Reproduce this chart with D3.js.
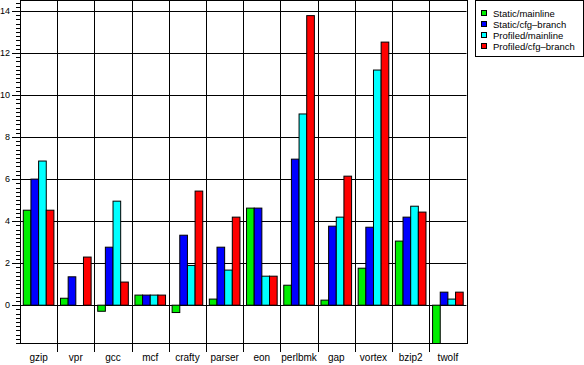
<!DOCTYPE html>
<html>
<head>
<meta charset="utf-8">
<script src="https://cdn.jsdelivr.net/npm/d3@7"></script>
<style>
  body { margin: 0; background: #fff; }
  svg { display: block; }
  text { font-family: "Liberation Sans", Arial, Helvetica, sans-serif; fill: #000; }
</style>
</head>
<body>
<svg id="chart" width="584" height="365"></svg>
<script>
const benchmarks = ['gzip', 'vpr', 'gcc', 'mcf', 'crafty', 'parser', 'eon', 'perlbmk', 'gap', 'vortex', 'bzip2', 'twolf'];
const seriesNames = ['Static/mainline', 'Static/cfg–branch', 'Profiled/mainline', 'Profiled/cfg–branch'];
const seriesColors = ['#00ee00', '#0000ff', '#00ffff', '#ff0000'];

const staticMainline   = [4.52, 0.33, -0.29, 0.48, -0.35, 0.29, 4.62, 0.95, 0.24, 1.76, 3.05, -2.4];
const staticCfgBranch  = [6.0, 1.35, 2.76, 0.48, 3.33, 2.76, 4.62, 6.95, 3.76, 3.71, 4.19, 0.62];
const profiledMainline = [6.86, 0, 4.95, 0.48, 1.89, 1.67, 1.38, 9.1, 4.19, 11.19, 4.71, 0.29];
const profiledCfgBranch = [4.52, 2.29, 1.1, 0.48, 5.43, 4.19, 1.38, 13.78, 6.14, 12.52, 4.43, 0.62];

const yTicks = [0, 2, 4, 6, 8, 10, 12, 14];

const seriesValues = [staticMainline, staticCfgBranch, profiledMainline, profiledCfgBranch];

const svg = d3.select('#chart');
const plotLeft = 20, plotRight = 466.5, plotTop = 0.5, plotBottom = 343;

const x0 = d3.scaleBand().domain(benchmarks).range([plotLeft, plotRight]);
const x1 = d3.scaleBand().domain(seriesNames).range([0, x0.bandwidth()]).paddingOuter(0.43);
const y = d3.scaleLinear().domain([-1.8, 14.5]).range([plotBottom, plotTop]);

const crisp = (v) => Math.round(v) + 0.5;

// clip for the bars
svg.append('clipPath').attr('id', 'plotclip')
  .append('rect')
  .attr('x', plotLeft).attr('y', plotTop)
  .attr('width', plotRight - plotLeft).attr('height', plotBottom - plotTop);

// minor ticks
const minor = d3.range(-18, 146, 2).map((v) => v / 10).filter((v) => !yTicks.includes(v));
svg.append('g').selectAll('line').data(minor).join('line')
  .attr('x1', 16).attr('x2', plotLeft)
  .attr('y1', (d) => crisp(y(d))).attr('y2', (d) => crisp(y(d)))
  .attr('stroke', '#000');

// major ticks + horizontal grid
svg.append('g').selectAll('line').data(yTicks).join('line')
  .attr('x1', 12).attr('x2', plotRight)
  .attr('y1', (d) => crisp(y(d))).attr('y2', (d) => crisp(y(d)))
  .attr('stroke', '#000');

svg.append('g').selectAll('text').data(yTicks).join('text')
  .attr('x', 10).attr('y', (d) => y(d) + 3.2)
  .attr('text-anchor', 'end')
  .style('font-size', '9px')
  .text((d) => d);

// bars
const groups = svg.append('g').attr('clip-path', 'url(#plotclip)')
  .selectAll('g').data(benchmarks).join('g')
  .attr('transform', (d) => `translate(${x0(d)},0)`);

groups.selectAll('rect')
  .data((d, i) => seriesNames.map((s, k) => ({ s, k, v: seriesValues[k][i] })).filter((e) => e.v !== 0))
  .join('rect')
  .attr('x', (d) => x1(d.s))
  .attr('width', x1.bandwidth())
  .attr('y', (d) => y(Math.max(0, d.v)))
  .attr('height', (d) => Math.abs(y(d.v) - y(0)))
  .attr('fill', (d) => seriesColors[d.k])
  .attr('stroke', '#000')
  .attr('stroke-width', 1);

// category separators
const seps = benchmarks.slice(1).map((b) => x0(b));
svg.append('g').selectAll('line').data(seps).join('line')
  .attr('x1', (d) => crisp(d)).attr('x2', (d) => crisp(d))
  .attr('y1', plotTop).attr('y2', 352)
  .attr('stroke', '#000');

// frame
svg.append('rect')
  .attr('x', crisp(plotLeft)).attr('y', plotTop)
  .attr('width', crisp(plotRight) - crisp(plotLeft)).attr('height', crisp(plotBottom) - plotTop)
  .attr('fill', 'none').attr('stroke', '#000');

// x labels
svg.append('g').selectAll('text').data(benchmarks).join('text')
  .attr('x', (d) => x0(d) + x0.bandwidth() / 2)
  .attr('y', 361)
  .attr('text-anchor', 'middle')
  .style('font-size', '10px')
  .text((d) => d);

// legend
const legend = svg.append('g');
legend.append('rect')
  .attr('x', 475.5).attr('y', 0.5).attr('width', 108).attr('height', 56)
  .attr('fill', '#fff').attr('stroke', '#000');

const items = legend.selectAll('g').data(seriesNames).join('g')
  .attr('transform', (d, i) => `translate(0,${13 + i * 11})`);

items.append('rect')
  .attr('x', 481.5).attr('y', -2.5).attr('width', 5).attr('height', 5)
  .attr('fill', (d, i) => seriesColors[i]).attr('stroke', '#000');

items.append('text')
  .attr('x', 493).attr('y', 3.5)
  .style('font-size', '9.5px')
  .text((d) => d);
</script>
</body>
</html>
